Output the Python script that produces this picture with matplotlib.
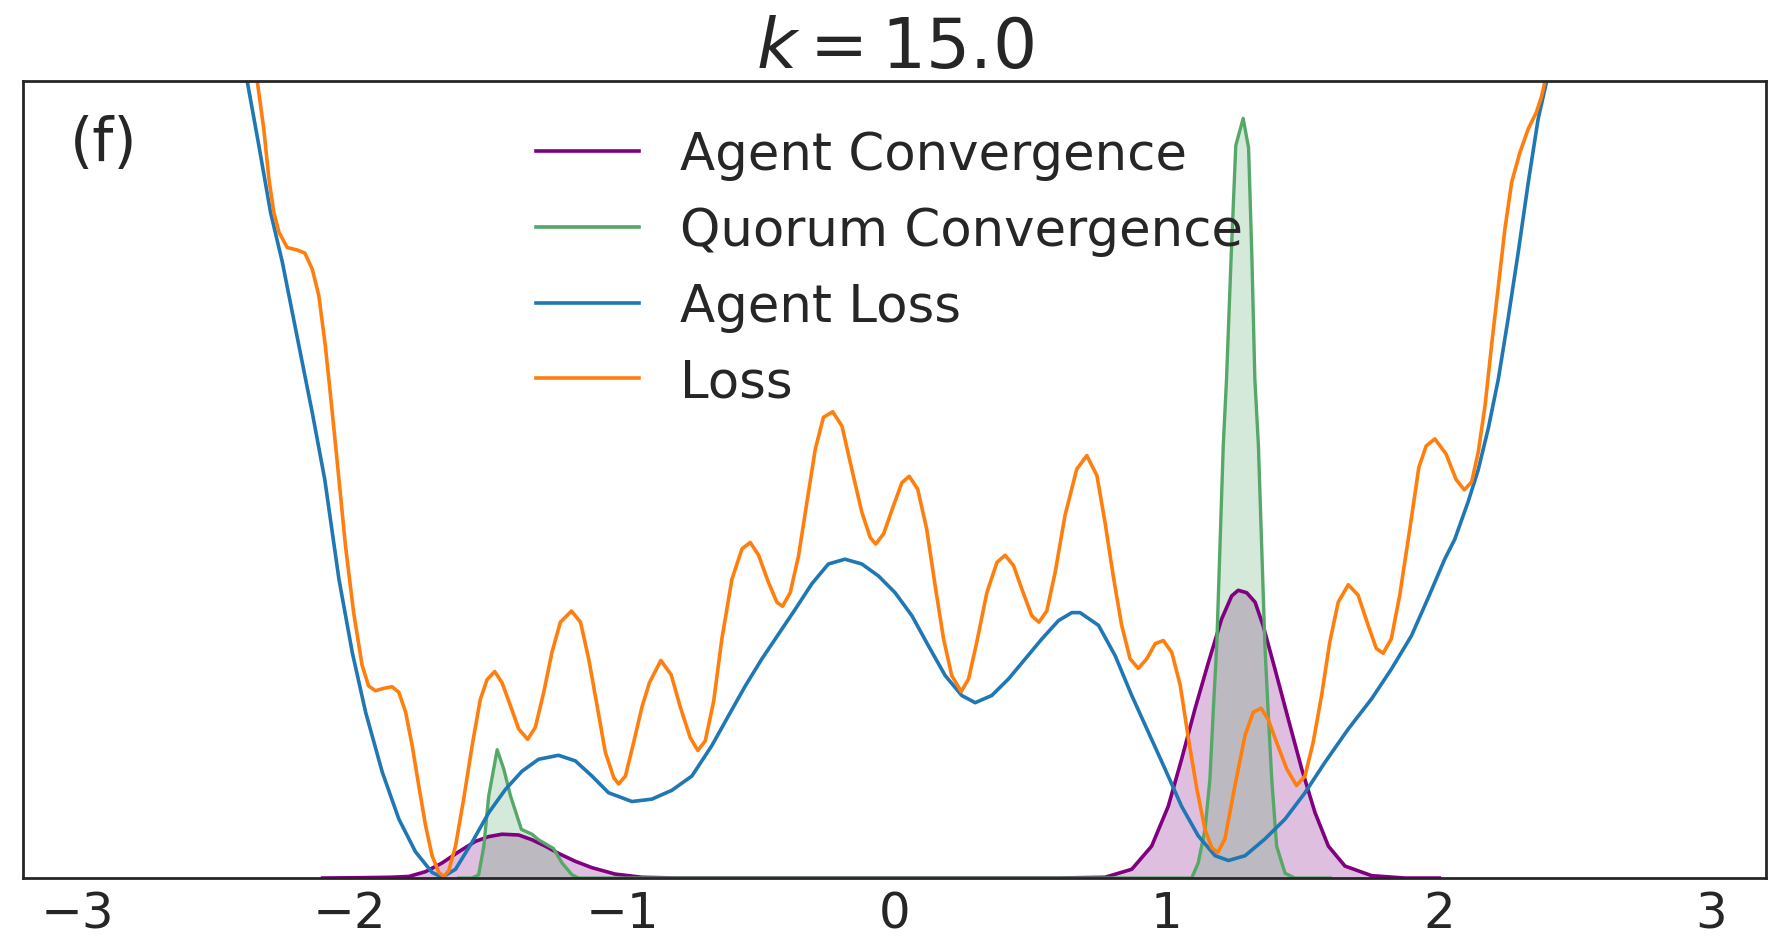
import matplotlib
matplotlib.use("Agg")
import matplotlib.pyplot as plt

# Loss (orange); y is a fraction of the plot height
loss_x = [-2.40, -2.340, -2.316, -2.297, -2.279, -2.26, -2.23, -2.194, -2.165, -2.138,
          -2.114, -2.09, -2.071, -2.052, -2.04, -2.016, -1.986, -1.955, -1.931, -1.906,
          -1.875, -1.845, -1.82, -1.795, -1.771, -1.747, -1.722, -1.698, -1.673, -1.655,
          -1.637, -1.612, -1.582, -1.551, -1.521, -1.496, -1.468, -1.441, -1.41, -1.38,
          -1.347, -1.319, -1.288, -1.258, -1.227, -1.186, -1.153, -1.123, -1.092, -1.062,
          -1.031, -1.013, -0.988, -0.958, -0.927, -0.90, -0.858, -0.82, -0.787, -0.75,
          -0.722, -0.695, -0.664, -0.634, -0.597, -0.560, -0.530, -0.499, -0.463, -0.432,
          -0.411, -0.383, -0.352, -0.322, -0.291, -0.261, -0.227, -0.193, -0.157, -0.120,
          -0.089, -0.069, -0.04, -0.004, 0.027, 0.054, 0.085, 0.118, 0.149, 0.180,
          0.210, 0.245, 0.272, 0.302, 0.339, 0.376, 0.406, 0.437, 0.467, 0.504,
          0.530, 0.559, 0.59, 0.626, 0.669, 0.706, 0.743, 0.773, 0.803, 0.834,
          0.865, 0.895, 0.926, 0.957, 0.987, 1.018, 1.049, 1.079, 1.110, 1.140,
          1.165, 1.187, 1.213, 1.250, 1.287, 1.317, 1.346, 1.372, 1.403, 1.440,
          1.476, 1.507, 1.537, 1.568, 1.598, 1.629, 1.666, 1.702, 1.739, 1.769,
          1.794, 1.824, 1.855, 1.892, 1.925, 1.952, 1.984, 2.025, 2.062, 2.092,
          2.119, 2.143, 2.168, 2.192, 2.217, 2.241, 2.266, 2.296, 2.327, 2.357,
          2.376, 2.388, 2.41]
loss_y = [1.04, 1.0, 0.940, 0.877, 0.835, 0.81, 0.791, 0.788, 0.784, 0.764,
          0.731, 0.668, 0.606, 0.542, 0.5, 0.417, 0.333, 0.267, 0.241, 0.235,
          0.238, 0.24, 0.233, 0.208, 0.166, 0.116, 0.066, 0.028, 0.007, 0.002,
          0.009, 0.04, 0.099, 0.166, 0.224, 0.249, 0.259, 0.245, 0.216, 0.187,
          0.174, 0.189, 0.233, 0.283, 0.321, 0.335, 0.321, 0.275, 0.216, 0.158,
          0.126, 0.118, 0.128, 0.17, 0.215, 0.245, 0.273, 0.255, 0.215, 0.176,
          0.160, 0.172, 0.222, 0.300, 0.375, 0.413, 0.421, 0.405, 0.371, 0.346,
          0.341, 0.358, 0.405, 0.471, 0.538, 0.578, 0.585, 0.567, 0.513, 0.459,
          0.427, 0.419, 0.432, 0.467, 0.496, 0.504, 0.488, 0.438, 0.367, 0.300,
          0.254, 0.234, 0.250, 0.296, 0.358, 0.396, 0.405, 0.392, 0.363, 0.329,
          0.321, 0.335, 0.384, 0.455, 0.513, 0.530, 0.505, 0.446, 0.379, 0.317,
          0.275, 0.263, 0.275, 0.294, 0.298, 0.283, 0.242, 0.175, 0.112, 0.061,
          0.038, 0.032, 0.049, 0.116, 0.179, 0.208, 0.213, 0.199, 0.170, 0.137,
          0.116, 0.128, 0.170, 0.229, 0.296, 0.346, 0.368, 0.355, 0.317, 0.288,
          0.282, 0.300, 0.355, 0.438, 0.515, 0.542, 0.551, 0.532, 0.500, 0.487,
          0.497, 0.534, 0.592, 0.668, 0.743, 0.814, 0.873, 0.910, 0.940, 0.961,
          0.981, 0.999, 1.04]

# Agent Loss (blue)
agent_loss_x = [-2.42, -2.377, -2.334, -2.291, -2.248, -2.187, -2.138, -2.092, -2.04, -1.991,
                -1.942, -1.881, -1.82, -1.759, -1.698, -1.661, -1.612, -1.551, -1.49, -1.429,
                -1.368, -1.307, -1.234, -1.172, -1.111, -1.05, -0.964, -0.891, -0.818, -0.744,
                -0.671, -0.609, -0.548, -0.487, -0.426, -0.365, -0.304, -0.243, -0.182, -0.120,
                -0.059, 0.002, 0.064, 0.125, 0.186, 0.247, 0.296, 0.357, 0.419, 0.480,
                0.541, 0.602, 0.651, 0.681, 0.749, 0.810, 0.871, 0.932, 0.993, 1.054,
                1.115, 1.177, 1.226, 1.287, 1.360, 1.434, 1.507, 1.580, 1.666, 1.752,
                1.824, 1.898, 1.96, 2.02, 2.057, 2.106, 2.143, 2.18, 2.217, 2.253,
                2.29, 2.327, 2.363, 2.394, 2.41]
agent_loss_y = [1.04, 1.0, 0.919, 0.835, 0.773, 0.668, 0.584, 0.5, 0.375, 0.283,
                0.208, 0.133, 0.074, 0.033, 0.007, 0.001, 0.011, 0.045, 0.082, 0.111,
                0.134, 0.149, 0.154, 0.147, 0.128, 0.107, 0.096, 0.099, 0.11, 0.128,
                0.166, 0.204, 0.241, 0.275, 0.306, 0.337, 0.369, 0.394, 0.400, 0.394,
                0.379, 0.358, 0.329, 0.291, 0.254, 0.229, 0.220, 0.229, 0.250, 0.275,
                0.300, 0.323, 0.333, 0.333, 0.317, 0.279, 0.229, 0.183, 0.137, 0.090,
                0.053, 0.028, 0.022, 0.028, 0.049, 0.074, 0.107, 0.145, 0.187, 0.225,
                0.262, 0.304, 0.352, 0.40, 0.425, 0.472, 0.512, 0.564, 0.626, 0.702,
                0.785, 0.873, 0.952, 0.999, 1.04]

# Agent Convergence (purple density)
agent_conv_x = [-2.1, -1.95, -1.85, -1.783, -1.722, -1.661, -1.6, -1.539, -1.49, -1.441,
                -1.38, -1.331, -1.282, -1.234, -1.172, -1.111, -1.026, -0.928, -0.8, 0.6,
                0.773, 0.871, 0.944, 1.005, 1.054, 1.103, 1.152, 1.201, 1.238, 1.262,
                1.293, 1.324, 1.354, 1.397, 1.446, 1.495, 1.544, 1.593, 1.654, 1.752,
                1.874, 2.0]
agent_conv_y = [0.0, 0.0005, 0.001, 0.002, 0.008, 0.019, 0.033, 0.046, 0.052, 0.055,
                0.054, 0.048, 0.040, 0.031, 0.021, 0.013, 0.005, 0.001, 0.0, 0.0,
                0.001, 0.011, 0.040, 0.090, 0.149, 0.212, 0.270, 0.325, 0.354, 0.361,
                0.358, 0.346, 0.316, 0.262, 0.199, 0.137, 0.082, 0.040, 0.015, 0.003,
                0.0, 0.0]

# Quorum Convergence (green density)
quorum_conv_x = [-1.6, -1.551, -1.527, -1.508, -1.49, -1.459, -1.435, -1.41, -1.37, -1.331,
                 -1.307, -1.252, -1.221, -1.184, -1.16, 1.091, 1.115, 1.140, 1.158, 1.170,
                 1.183, 1.195, 1.207, 1.219, 1.236, 1.253, 1.28, 1.30, 1.312, 1.323,
                 1.336, 1.348, 1.36, 1.372, 1.385, 1.403, 1.434, 1.47, 1.6]
quorum_conv_y = [0.0, 0.0, 0.004, 0.04, 0.103, 0.161, 0.137, 0.103, 0.061, 0.055,
                 0.048, 0.037, 0.019, 0.004, 0.0, 0.0, 0.019, 0.061, 0.124, 0.208,
                 0.291, 0.417, 0.543, 0.626, 0.78, 0.919, 0.953, 0.916, 0.78, 0.626,
                 0.543, 0.417, 0.291, 0.208, 0.124, 0.040, 0.006, 0.0, 0.0]

x_ticks = [-3, -2, -1, 0, 1, 2, 3]

text_col = "#262626"
plt.rcParams["font.family"] = "DejaVu Sans"

fig = plt.figure(figsize=(17.83, 9.53), dpi=100)
ax = fig.add_axes([0.0129, 0.0776, 0.9776, 0.8364])

ax.fill_between(agent_conv_x, agent_conv_y, color="purple", alpha=0.25, lw=0)
ax.plot(agent_conv_x, agent_conv_y, color="purple", lw=2.6, label="Agent Convergence")
ax.fill_between(quorum_conv_x, quorum_conv_y, color="#55a868", alpha=0.25, lw=0)
ax.plot(quorum_conv_x, quorum_conv_y, color="#55a868", lw=2.4, label="Quorum Convergence")
ax.plot(agent_loss_x, agent_loss_y, color="#1f77b4", lw=2.6, label="Agent Loss")
ax.plot(loss_x, loss_y, color="#ff7f0e", lw=2.6, label="Loss")

ax.set_xlim(-3.2, 3.2)
ax.set_ylim(0, 1)
ax.set_xticks(x_ticks)
ax.set_xticklabels([f"{t}".replace("-", "\u2212") for t in x_ticks])
ax.set_yticks([])
ax.tick_params(axis="x", length=0, pad=8, labelsize=36, labelcolor=text_col)
for s in ax.spines.values():
    s.set_color(text_col)
    s.set_linewidth(2.0)

ax.set_title("$k = 15.0$", fontsize=50, color=text_col, pad=8)
ax.text(0.027, 0.922, "(f)", transform=ax.transAxes, fontsize=43,
        ha="left", va="center", color=text_col)

leg = ax.legend(loc="upper left", bbox_to_anchor=(0.268, 0.996), frameon=False,
                fontsize=37, handlelength=2.0, handletextpad=0.8, labelspacing=0.5)
for t in leg.get_texts():
    t.set_color(text_col)
for h in leg.get_lines():
    h.set_linewidth(2.6)

fig.savefig("out.png", dpi=100)
